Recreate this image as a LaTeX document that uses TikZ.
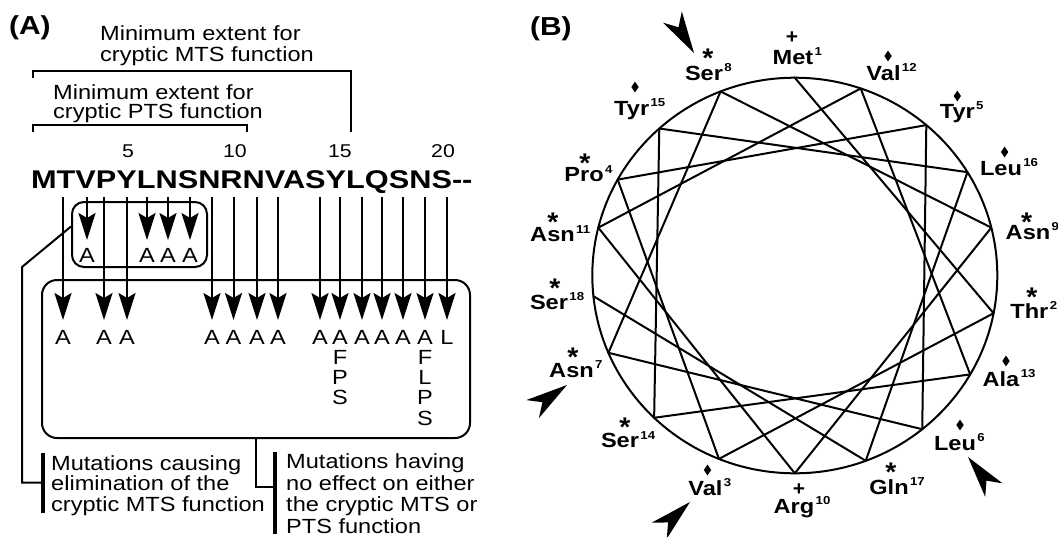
\documentclass[tikz,border=0pt]{standalone}
\usepackage{fontspec}
\setmainfont{Liberation Sans}
\newfontfamily\widesans[FakeStretch=1.15]{Liberation Sans}
\newfontfamily\seqsans[FakeStretch=1.2]{Liberation Sans}
\newfontfamily\wheelsans[FakeStretch=1.05]{Liberation Sans}
\usetikzlibrary{arrows.meta,shapes.geometric,calc}

% asterisk with a box round its ink only (the glyph sits high in the em)
\newcommand\starmark{\raisebox{-10.5pt}[8.8pt][0pt]{*}}

\tikzset{
  body/.style={font={\widesans\fontsize{20.5}{20.5}\selectfont}, inner sep=0pt},
  column/.style={font={\widesans\fontsize{20.5}{20.3}\selectfont}, inner sep=0pt, align=center},
  numtag/.style={font={\widesans\fontsize{18.5}{18.5}\selectfont}, inner sep=0pt},
  seqtag/.style={font={\seqsans\bfseries\fontsize{25.6}{25.6}\selectfont}, inner sep=0pt},
  paneltag/.style={font={\widesans\bfseries\fontsize{26}{26}\selectfont}, inner sep=0pt},
  groupbox/.style={draw, line width=2pt, inner sep=0pt},
  mutarrow/.style={line width=2pt, -{Stealth[length=27pt,width=17pt,inset=5pt]}},
  bracket/.style={line width=2pt},
  link/.style={line width=2pt},
  legbar/.style={line width=4pt},
  chord/.style={line width=2pt, line cap=round},
  residue/.style={font={\widesans\bfseries\fontsize{20.5}{20.5}\selectfont}, inner sep=0pt},
  resnum/.style={font={\widesans\bfseries\fontsize{11.5}{11.5}\selectfont}, inner sep=0pt},
  symplus/.style={font={\wheelsans\bfseries\fontsize{20}{20}\selectfont}, inner sep=0pt},
  symast/.style={font={\wheelsans\bfseries\fontsize{27}{27}\selectfont}, inner sep=0pt},
  symdia/.style={diamond, fill, inner sep=0pt, minimum width=7.5pt, minimum height=11pt},
  spear/.pic={\fill (0,0) -- (-42,-11) -- (-30,0) -- (-42,11) -- cycle;},
}

\begin{document}
\begin{tikzpicture}[x=1pt,y=-1pt]
\useasboundingbox (0,0) rectangle (1058,536);

% ---------- panel A ----------
\node[paneltag, anchor=base west] (tagA) at (9,34) {(A)};

% extent notes (anchored at the baseline of their last line) and brackets
\node[body, anchor=base west, align=left] (mtsnote) at (100,61) {Minimum extent for\\cryptic MTS function};
\node[body, anchor=base west, align=left, font={\widesans\fontsize{20.5}{19}\selectfont}] (ptsnote) at (53,118.5) {Minimum extent for\\cryptic PTS function};

\coordinate (mts1) at (33,78);  \coordinate (mts2) at (33,70.7);
\coordinate (mts3) at (351,70.7); \coordinate (mts4) at (351,132);
\draw[bracket] (mts1) -- (mts2) -- (mts3) -- (mts4);
\coordinate (pts1) at (33,132); \coordinate (pts2) at (33,125);
\coordinate (pts3) at (247,125); \coordinate (pts4) at (247,132);
\draw[bracket] (pts1) -- (pts2) -- (pts3) -- (pts4);

% residue numbering and sequence
\foreach \n/\x in {5/128,10/235,15/340,20/443}
  \node[numtag, anchor=base] (num\n) at (\x,157) {\n};
\node[seqtag, anchor=base west] (seq) at (30.8,188.3) {MTVPYLNSNRNVASYLQSNS--};

% groups of mutations
\node[groupbox, rounded corners=12pt, minimum width=135pt, minimum height=65pt] (sbox) at (139.5,234.5) {};
\node[groupbox, rounded corners=15pt, minimum width=428pt, minimum height=158pt] (lbox) at (256,359) {};

% substitutions eliminating the MTS function
\foreach \i/\x in {3/87,6/147,7/168,8/190}{
  \coordinate (st\i) at (\x,197);
  \coordinate (et\i) at (\x,240);
  \draw[mutarrow] (st\i) -- (et\i);
  \node[body, anchor=base] (sa\i) at (\x,262) {A};
}

% substitutions without effect
\foreach \i/\x in {2/63,4/104,5/127,9/212,10/233.5,11/257,12/278,14/320,15/340,16/362,17/382,18/403,19/425,20/447}{
  \coordinate (st\i) at (\x,197);
  \coordinate (et\i) at (\x,320);
  \draw[mutarrow] (st\i) -- (et\i);
}
\foreach \i/\x/\lab in {2/63/A,4/104/A,5/127/A,9/212/A,10/233.5/A,11/257/A,12/278/A,14/320/A,16/362/A,17/382/A,18/403/A,20/447/L}
  \node[body, anchor=base] (la\i) at (\x,344) {\lab};
\node[column, anchor=base] (la15) at (340,404.9) {A\\F\\P\\S};
\node[column, anchor=base] (la19) at (425,425.2) {A\\F\\L\\P\\S};

% legends
\node[body, anchor=base west, align=left] (leg1) at (51,511) {Mutations causing\\elimination of the\\cryptic MTS function};
\node[body, anchor=base west, align=left, font={\widesans\fontsize{20.5}{21.5}\selectfont}] (leg2) at (286,533) {Mutations having\\no effect on either\\the cryptic MTS or\\PTS function};

\coordinate (b1t) at (43,453); \coordinate (b1b) at (43,513);
\draw[legbar] (b1t) -- (b1b);
\coordinate (b2t) at (275,452); \coordinate (b2b) at (275,534);
\draw[legbar] (b2t) -- (b2b);

\coordinate (c1a) at ([yshift=8pt]sbox.west);
\coordinate (c1b) at (22,267);
\coordinate (c1c) at (22,482.5);
\coordinate (b1m) at (43,482.5);
\draw[link] (c1a) -- (c1b) -- (c1c) -- (b1m);
\coordinate (b2m) at (275,487);
\draw[link] (lbox.south) |- (b2m);

% ---------- panel B: helical wheel ----------
\node[paneltag, anchor=base west] (tagB) at (530,35) {(B)};

\coordinate (O) at (794.8,275.5);
\draw[line width=2pt] (O) ellipse [x radius=202.5pt, y radius=197.8pt];

\foreach \i/\a in {1/90,2/-11,3/-112,4/151,5/49.5,6/-51,7/-157,8/111.5,9/14,10/-90,11/166,12/71,13/-30,14/-134,15/132,16/31.5,17/-69.5,18/-174}
  \coordinate (v\i) at ($(O)+({202.5*cos(\a)},{-197.8*sin(\a)})$);

\foreach \i in {1,...,17}{
  \pgfmathtruncatemacro\j{\i+1}
  \draw[chord] (v\i) -- (v\j);
}

\foreach \i/\w/\bx/\by/\st/\sym/\sx/\sy in {
  1/Met/793/64/symplus/+/792/38,
  2/Thr/1029.4/318.5/symast/\starmark/1032/292,
  3/Val/705.5/495.5/symdia//707.5/470,
  4/Pro/584/181.7/symast/\starmark/585/157.5,
  5/Tyr/957.3/118/symdia//957.3/96,
  6/Leu/955/450/symdia//960/425,
  7/Asn/571.5/377/symast/\starmark/573/352,
  8/Ser/704/80/symast/\starmark/708/53,
  9/Asn/1028/239/symast/\starmark/1026.7/217,
  10/Arg/794/513/symplus/+/799/490,
  11/Asn/552.5/241.7/symast/\starmark/553/217,
  12/Val/883.5/80.2/symdia//888/56,
  13/Ala/1001/386/symdia//1006/361,
  14/Ser/620/447.5/symast/\starmark/625/422,
  15/Tyr/631.7/115/symdia//635/87,
  16/Leu/1001/175/symdia//1004.6/152,
  17/Gln/889/494/symast/\starmark/891/467,
  18/Ser/549/309/symast/\starmark/555/283}{
  \node[residue, anchor=base] (w\i) at (\bx,\by) {\w};
  \node[resnum, anchor=north west] (ws\i) at ([xshift=1pt,yshift=2pt]w\i.north east) {\i};
  \node[\st] (m\i) at (\sx,\sy) {\sym};
}

% pointers to the residues of the cryptic MTS face
\coordinate (p8) at (694,53);
\coordinate (p7) at (567,385);
\coordinate (p3) at (690,502);
\coordinate (p6) at (968,457);
\pic[rotate=-59] at (p8) {spear};
\pic[rotate=35] at (p7) {spear};
\pic[rotate=43] at (p3) {spear};
\pic[rotate=128] at (p6) {spear};
\end{tikzpicture}
\end{document}
